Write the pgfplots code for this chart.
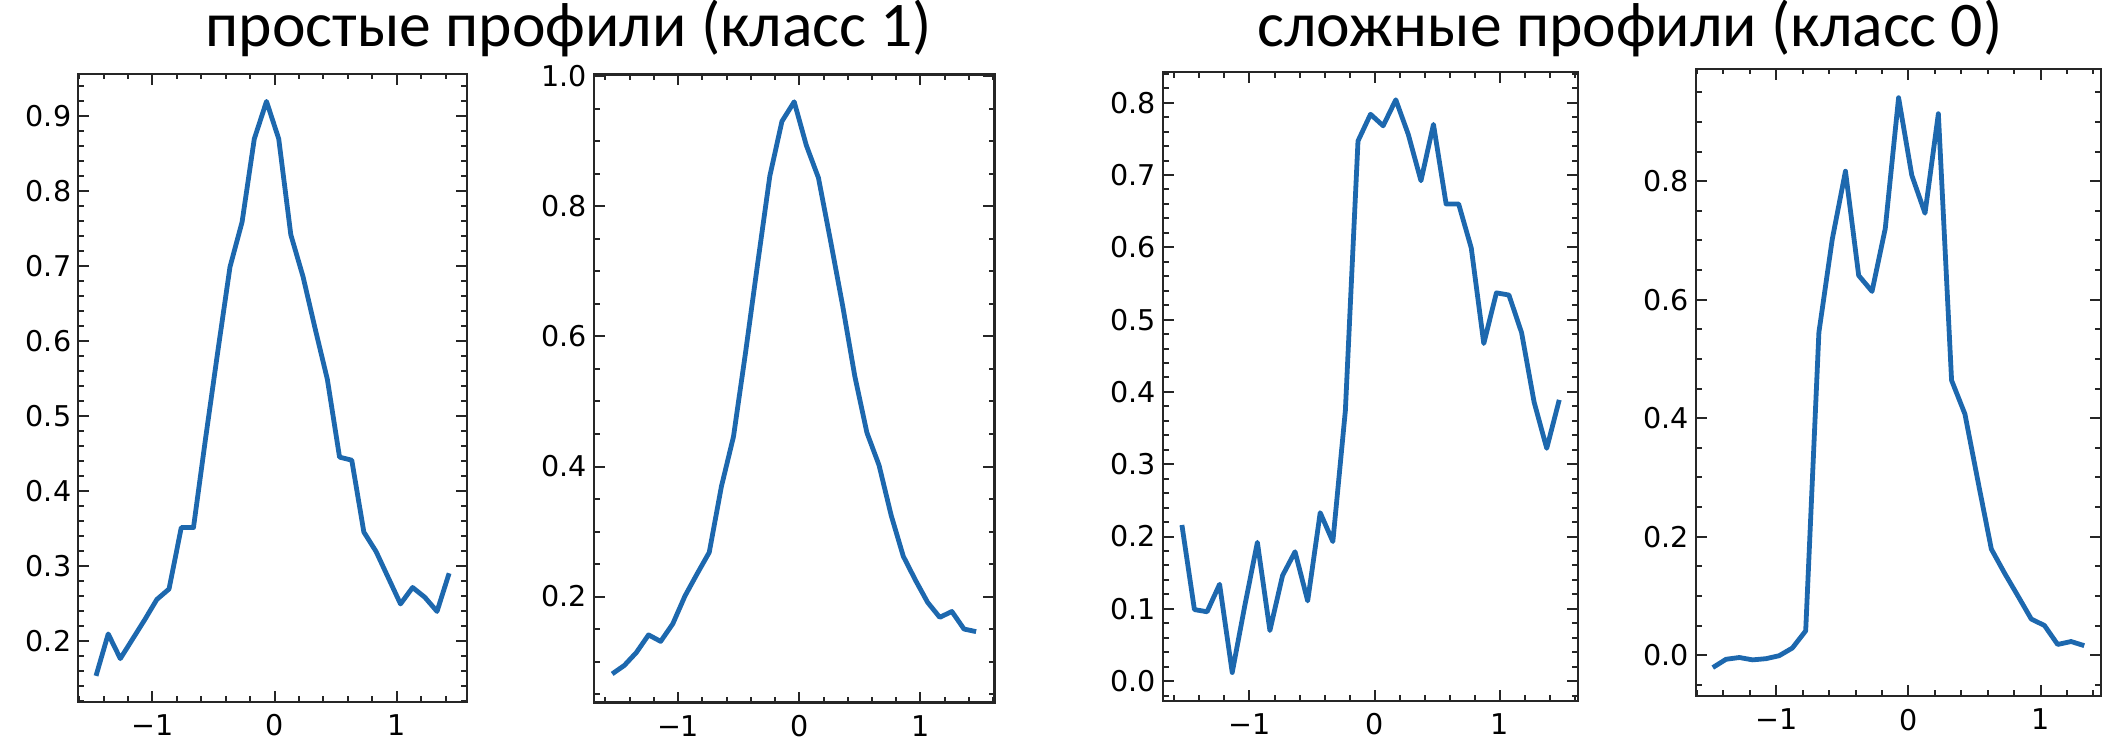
\documentclass[border=0pt]{standalone}
\usepackage{fontspec}
\usepackage{pgfplots}
\pgfplotsset{compat=1.18}
\newfontfamily\tickfont{DejaVu Sans}
\newfontfamily\titlefont{Carlito}
\definecolor{mplblue}{HTML}{1D68AE}

\pgfplotsset{
  prof/.style={
    scale only axis,
    anchor=south west,
    axis line style={line width=1.1pt, black!85},
    every tick/.style={black!85, line width=1pt},
    major tick length=5.5pt,
    minor tick length=2.8pt,
    tick align=inside,
    tick pos=both,
    xtick={-1,0,1},
    xticklabels={−1,0,1},
    minor xtick={-1.6,-1.4,-1.2,-0.8,-0.6,-0.4,-0.2,0.2,0.4,0.6,0.8,1.2,1.4,1.6},
    ticklabel style={font=\tickfont\fontsize{14.3}{16}\selectfont, text=black},
    xticklabel style={yshift=-3pt},
  },
  profline/.style={mplblue, line width=2.4pt, line join=round, no markers},
}

\begin{document}
\begin{tikzpicture}
\path[use as bounding box] (0,0) rectangle (1051.5pt,370pt);

\node[anchor=base, inner sep=0pt, font=\titlefont\fontsize{31.8}{36}\selectfont] at (284.5pt,346.5pt) {простые профили (класс 1)};
\node[anchor=base, inner sep=0pt, font=\titlefont\fontsize{31.8}{36}\selectfont] at (815pt,346.5pt) {сложные профили (класс 0)};

% Panel 1
\begin{axis}[prof, at={(39.15pt,19.15pt)}, width=194.2pt, height=314pt,
  xmin=-1.607, xmax=1.573, ymin=0.1185, ymax=0.957,
  ytick={0.2,0.3,0.4,0.5,0.6,0.7,0.8,0.9},
  yticklabels={0.2,0.3,0.4,0.5,0.6,0.7,0.8,0.9},
  minor ytick={0.12,0.14,0.16,0.18,0.22,0.24,0.26,0.28,0.32,0.34,0.36,0.38,0.42,0.44,0.46,0.48,0.52,0.54,0.56,0.58,0.62,0.64,0.66,0.68,0.72,0.74,0.76,0.78,0.82,0.84,0.86,0.88,0.92,0.94}]
\addplot[profline] table {
x y
-1.462 0.153
-1.362 0.209
-1.263 0.176
-1.163 0.202
-1.063 0.228
-0.964 0.255
-0.864 0.269
-0.764 0.351
-0.664 0.351
-0.565 0.470
-0.465 0.586
-0.365 0.699
-0.266 0.759
-0.166 0.870
-0.066 0.920
0.034 0.870
0.133 0.742
0.233 0.686
0.333 0.616
0.432 0.549
0.532 0.445
0.632 0.441
0.731 0.345
0.831 0.319
0.931 0.284
1.031 0.249
1.130 0.271
1.230 0.258
1.330 0.239
1.429 0.290
};
\end{axis}

% Panel 2
\begin{axis}[prof, at={(297pt,18.75pt)}, width=200.2pt, height=314pt,
  xmin=-1.694, xmax=1.610, ymin=0.037, ymax=1.003,
  ytick={0.2,0.4,0.6,0.8,1.0},
  yticklabels={0.2,0.4,0.6,0.8,1.0},
  minor ytick={0.05,0.1,0.15,0.25,0.3,0.35,0.45,0.5,0.55,0.65,0.7,0.75,0.85,0.9,0.95}]
\addplot[profline] table {
x y
-1.544 0.081
-1.444 0.094
-1.344 0.114
-1.244 0.141
-1.144 0.131
-1.044 0.158
-0.943 0.201
-0.843 0.235
-0.743 0.268
-0.643 0.369
-0.543 0.446
-0.443 0.576
-0.343 0.713
-0.243 0.847
-0.143 0.931
-0.042 0.961
0.058 0.894
0.158 0.844
0.258 0.747
0.358 0.647
0.458 0.539
0.558 0.452
0.658 0.402
0.758 0.325
0.858 0.262
0.959 0.225
1.059 0.191
1.159 0.168
1.259 0.177
1.359 0.150
1.459 0.146
};
\end{axis}

% Panel 3
\begin{axis}[prof, at={(581.5pt,19.65pt)}, width=207.5pt, height=314.2pt,
  xmin=-1.691, xmax=1.625, ymin=-0.027, ymax=0.842,
  ytick={0,0.1,0.2,0.3,0.4,0.5,0.6,0.7,0.8},
  yticklabels={0.0,0.1,0.2,0.3,0.4,0.5,0.6,0.7,0.8},
  minor ytick={-0.02,0.02,0.04,0.06,0.08,0.12,0.14,0.16,0.18,0.22,0.24,0.26,0.28,0.32,0.34,0.36,0.38,0.42,0.44,0.46,0.48,0.52,0.54,0.56,0.58,0.62,0.64,0.66,0.68,0.72,0.74,0.76,0.78,0.82,0.84}]
\addplot[profline] table {
x y
-1.540 0.216
-1.440 0.099
-1.339 0.096
-1.239 0.134
-1.138 0.012
-1.038 0.104
-0.937 0.192
-0.837 0.070
-0.736 0.146
-0.636 0.179
-0.535 0.111
-0.435 0.233
-0.334 0.193
-0.234 0.374
-0.133 0.747
-0.033 0.784
0.068 0.768
0.169 0.804
0.269 0.756
0.370 0.692
0.470 0.770
0.571 0.660
0.671 0.660
0.772 0.599
0.872 0.467
0.973 0.537
1.073 0.534
1.174 0.482
1.274 0.386
1.375 0.322
1.475 0.389
};
\end{axis}

% Panel 4
\begin{axis}[prof, at={(848pt,22pt)}, width=202.5pt, height=313.65pt,
  xmin=-1.607, xmax=1.458, ymin=-0.069, ymax=0.99,
  ytick={0,0.2,0.4,0.6,0.8},
  yticklabels={0.0,0.2,0.4,0.6,0.8},
  minor ytick={-0.05,0.05,0.1,0.15,0.25,0.3,0.35,0.45,0.5,0.55,0.65,0.7,0.75,0.85,0.9,0.95}]
\addplot[profline] table {
x y
-1.480 -0.021
-1.380 -0.007
-1.279 -0.004
-1.179 -0.008
-1.078 -0.006
-0.978 -0.001
-0.878 0.012
-0.777 0.041
-0.677 0.545
-0.576 0.702
-0.476 0.817
-0.376 0.641
-0.275 0.614
-0.175 0.720
-0.074 0.941
0.026 0.810
0.126 0.746
0.227 0.914
0.327 0.464
0.428 0.407
0.528 0.292
0.628 0.179
0.729 0.138
0.829 0.100
0.930 0.061
1.030 0.050
1.130 0.018
1.231 0.023
1.331 0.016
};
\end{axis}
\end{tikzpicture}
\end{document}
